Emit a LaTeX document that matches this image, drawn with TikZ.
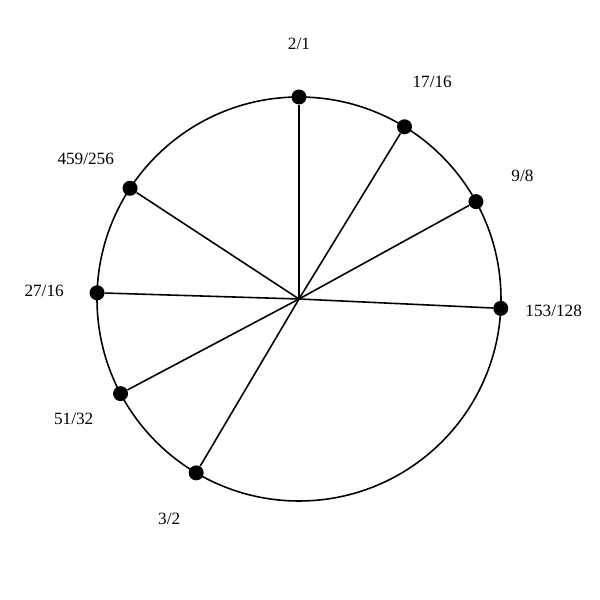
\documentclass[tikz,border=0pt]{standalone}
\usepackage{fontspec}
\setmainfont{Liberation Serif}
\usetikzlibrary{calc}

\begin{document}
\begin{tikzpicture}
\tikzset{spoke/.style={line width=0.9pt}}
\tikzset{tone/.style={circle,fill=black,inner sep=0pt,minimum size=0.3cm}}
\tikzset{ratio/.style={font=\fontsize{9.8}{11}\selectfont}}

\useasboundingbox (0,0) rectangle (12,12);

\coordinate (c) at (5.98,6.02);
\draw[spoke] (c) circle (4.04);

\foreach \ang/\lab/\nm in {90/2\slash1/a,58.51/17\slash16/b,28.82/9\slash8/d,-2.66/153\slash128/e,-120.59/3\slash2/f,-152.07/51\slash32/g,178.24/27\slash16/h,146.76/459\slash256/i}
{
\node[tone] (\nm) at ($(c)+(\ang:4.04)$) {};
\draw[spoke] (c) -- (\nm);
\node[ratio] (l\nm) at ($(c)+(\ang:5.1)$) {\lab};
}

\end{tikzpicture}
\end{document}
